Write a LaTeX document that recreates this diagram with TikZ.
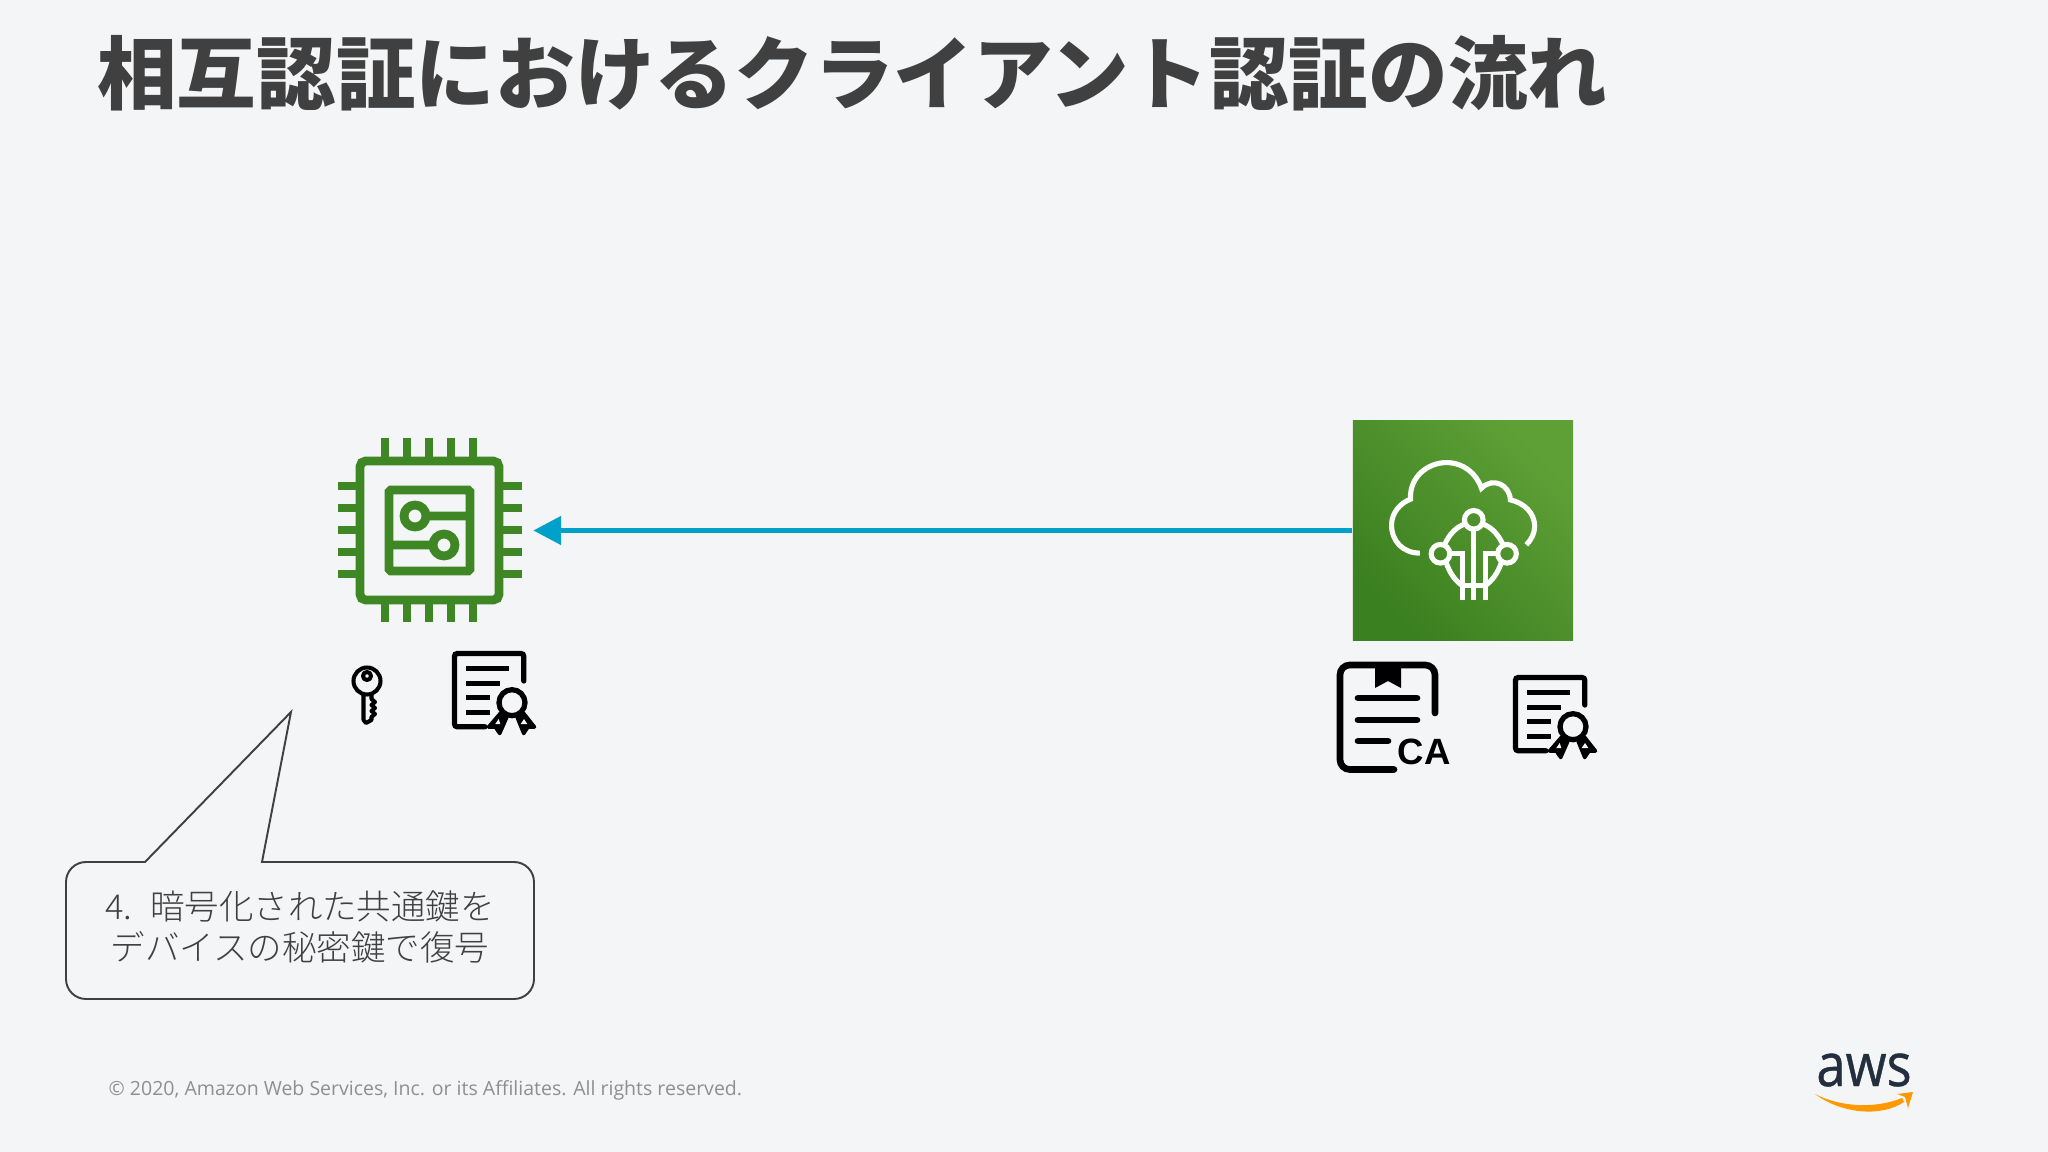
\documentclass[tikz,border=0pt]{standalone}
\usepackage{fontspec}
\usepackage{graphicx}
\setmainfont{Noto Sans CJK JP}
\newfontfamily\lightfont{Noto Sans CJK JP Light}
\newfontfamily\footfont{Open Sans}
\newfontfamily\logofont[FakeBold=0.7]{Open Sans}
\newfontfamily\cafont{Liberation Sans}
\definecolor{cBack}{HTML}{F4F5F6}
\definecolor{cText}{HTML}{404040}
\definecolor{cFoot}{HTML}{8F8F8F}
\definecolor{cChip}{HTML}{3F8624}
\definecolor{cLow}{HTML}{3A7F20}
\definecolor{cHigh}{HTML}{5FA036}
\definecolor{cFlow}{HTML}{00A1C9}
\definecolor{cNavy}{HTML}{232F3E}
\definecolor{cOrange}{HTML}{FF9900}
\usetikzlibrary{arrows.meta}
\tikzset{
	iconline/.style={line width=1.5pt, black, line cap=round, rounded corners=0.8pt},
	chipline/.style={line width=2.5pt, cChip},
	treeline/.style={line width=1.45pt, white},
	flow/.style={line width=1.42pt, cFlow, -{Triangle[length=7.9pt, width=7.9pt]}},
	certicon/.pic={
		\draw[iconline] (71.8,30) -- (71.8,2.5) -- (2.5,2.5) -- (2.5,75.8) -- (33,75.8);
		\draw[iconline, line cap=butt] (14.3,17.3) -- (56.7,17.3) (14.3,32.3) -- (48,32.3)
			(14.3,46.7) -- (37.7,46.7) (14.3,61.3) -- (37.7,61.3);
		\draw[line width=1pt, black, fill=black, line join=round] (48.3,62.3) -- (36.5,76) -- (43.3,76) -- (47.7,82.5) -- (55,66) -- cycle;
		\draw[line width=1pt, black, fill=black, line join=round] (71.7,62.3) -- (82.5,76) -- (76,76) -- (71.7,82.5) -- (65,66) -- cycle;
		\fill[cBack] (46.7,68) -- (43.3,73) -- (48.3,73) -- cycle (72,68) -- (68.7,73) -- (75.3,73) -- cycle;
		\draw[iconline, fill=cBack] (60,51.7) circle (13);
	}
}

\begin{document}
\begin{tikzpicture}[x=0.01cm, y=-0.01cm]
	\fill[cBack] (0,0) rectangle (2048,1152);
	\useasboundingbox (0,0) rectangle (2048,1152);
	\node[anchor=base west, inner sep=0, text=cText, font=\fontsize{22.65pt}{24pt}\selectfont\bfseries] (title) at (96.5,104) {相互認証におけるクライアント認証の流れ};

	% device
	\node[minimum size=2.05cm, inner sep=0] (chip) at (430,530.5) {};
	\draw[chipline, rounded corners=1.6pt] (360,461) rectangle (499,600);
	\draw[chipline, rounded corners=0.5pt] (389,490) rectangle (470,571);
	\foreach \p in {0,1,2,3,4} {
		\draw[chipline] (385+22*\p,438) -- (385+22*\p,461);
		\draw[chipline] (385+22*\p,600) -- (385+22*\p,622);
		\draw[chipline] (338,486+22*\p) -- (360,486+22*\p);
		\draw[chipline] (499,486+22*\p) -- (522,486+22*\p);
	}
	\draw[chipline] (415,516) circle (11) (426,516) -- (470,516);
	\draw[chipline] (444,545) circle (11) (389,545) -- (433,545);

	% key and certificate of the device
	\draw[line width=1.15pt, black, line join=round] (367,681) circle (13.5) (367,676) circle (4);
	\draw[line width=1.15pt, black, line join=round] (363.5,695) -- (363.5,720) -- (366,723) -- (371.5,720) -- (371.5,717)
		-- (375,714) -- (371.5,711) -- (375,708) -- (371.5,705) -- (375,702) -- (371.5,699) -- (371.5,695);
	\pic at (452,651) {certicon};

	% cloud
	\node[minimum size=2.2cm, inner sep=0, bottom color=cLow, top color=cHigh, shading angle=-45] (cloud) at (1463,530.5) {};
	\begin{scope}[shift={(1320,410)}, x=0.00333cm, y=-0.00333cm]
		\draw[treeline] (300,430) .. controls (250,430) and (215,395) .. (215,345) .. controls (215,310) and (240,280) .. (272,268)
			.. controls (268,200) and (325,158) .. (380,158) .. controls (430,158) and (470,190) .. (485,235)
			.. controls (520,200) and (570,225) .. (572,270) .. controls (615,280) and (645,310) .. (645,350)
			.. controls (645,370) and (635,390) .. (620,405);
		\draw[treeline] (462,330) circle (28) (362,432) circle (28) (562,432) circle (28);
		\draw[treeline] (437,342) .. controls (412,350) and (390,370) .. (374,405);
		\draw[treeline] (487,342) .. controls (512,350) and (534,370) .. (550,405);
		\draw[treeline] (378,456) .. controls (390,490) and (405,512) .. (428,528);
		\draw[treeline] (546,456) .. controls (534,490) and (519,512) .. (496,528);
		\draw[treeline] (428,572) -- (428,528) (496,572) -- (496,528) (428,528) -- (496,528);
		\draw[treeline] (462,358) -- (462,572);
		\draw[treeline] (390,432) -- (428,432) -- (428,528);
		\draw[treeline] (534,432) -- (496,432) -- (496,528);
	\end{scope}
	\draw[flow] (cloud) -- (chip);

	% CA certificate and server certificate
	\draw[line width=1.9pt, black, line cap=round, rounded corners=2.8pt] (1435,713) -- (1435,665) -- (1340,665) -- (1340,769.5) -- (1394,769.5);
	\fill[black] (1375,667) -- (1401,667) -- (1401,688) -- (1388,681) -- (1375,688) -- cycle;
	\draw[line width=1.9pt, black, line cap=round] (1358,698) -- (1417,698) (1358,720) -- (1417,720) (1358,741) -- (1388,741);
	\node[anchor=base west, inner sep=0, font=\cafont\fontsize{10.4pt}{12pt}\selectfont\bfseries] (catext) at (1397,764) {CA};
	\pic at (1513,675) {certicon};

	% callout
	\draw[line width=0.55pt, cText] (145,862) [rounded corners=0.2cm] -- (66,862) -- (66,999) -- (534,999) -- (534,862) [sharp corners] -- (262,862) -- (291,712) -- cycle;
	\node[align=center, inner sep=0, text=cText, font=\lightfont\fontsize{9.8pt}{11.55pt}\selectfont] (note) at (300,927) {4.\hspace{2.2pt} 暗号化された共通鍵を\\デバイスの秘密鍵で復号};

	% footer
	\node[anchor=base west, inner sep=0, text=cFoot, font=\footfont\fontsize{5.55pt}{7pt}\selectfont] (copyright) at (108,1095.5) {© 2020, Amazon Web Services, Inc. or its Affiliates. All rights reserved.};
	\node[anchor=base, inner sep=0, text=cNavy, font=\logofont\fontsize{17pt}{18pt}\selectfont] (logo) at (1864,1086) {\scalebox{.88}[1]{aws}};
	\fill[cOrange] (1815,1094) .. controls (1840,1113) and (1880,1118) .. (1904,1102) -- (1902,1098) .. controls (1875,1109) and (1840,1107) .. (1815,1094) -- cycle;
	\fill[cOrange] (1897,1094) -- (1913,1092) -- (1908,1108) -- (1905,1097) -- cycle;
\end{tikzpicture}
\end{document}
